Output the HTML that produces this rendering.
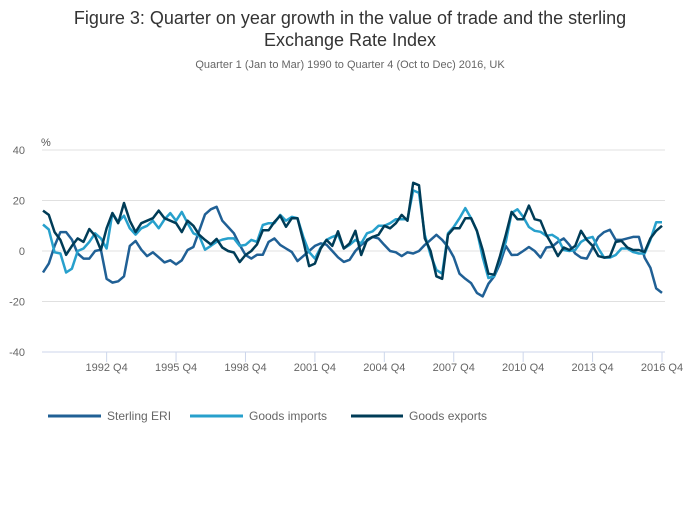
<!DOCTYPE html>
<html><head><meta charset="utf-8"><style>
body{margin:0;background:#fff;font-family:"Liberation Sans",sans-serif;}
svg text{font-family:"Liberation Sans",sans-serif;}
</style></head><body>
<svg id="chart" width="700" height="502" viewBox="0 0 700 502" xmlns="http://www.w3.org/2000/svg">
<text x="350" y="24" text-anchor="middle" font-size="18" fill="#333">Figure 3: Quarter on year growth in the value of trade and the sterling</text>
<text x="350" y="46" text-anchor="middle" font-size="18" fill="#333">Exchange Rate Index</text>
<text x="350" y="68" text-anchor="middle" font-size="11" fill="#666">Quarter 1 (Jan to Mar) 1990 to Quarter 4 (Oct to Dec) 2016, UK</text>
<text x="41" y="146" font-size="11" fill="#555">%</text>
<g id="grid"></g><g id="xaxis"></g><g id="lines"></g>
<g>
<g><line x1="48" y1="416" x2="101" y2="416" stroke="#206095" stroke-width="3"/><text x="107" y="420" font-size="12" fill="#666">Sterling ERI</text></g>
<g><line x1="190" y1="416" x2="243" y2="416" stroke="#27a0cc" stroke-width="3"/><text x="249" y="420" font-size="12" fill="#666">Goods imports</text></g>
<g><line x1="351" y1="416" x2="403" y2="416" stroke="#003c57" stroke-width="3"/><text x="409" y="420" font-size="12" fill="#666">Goods exports</text></g>
</g>
</svg>
<script>
const yTicks=[40,20,0,-20,-40];
const xTickLabels=["1992 Q4","1995 Q4","1998 Q4","2001 Q4","2004 Q4","2007 Q4","2010 Q4","2013 Q4","2016 Q4"];
const xTickIndex=[11,23,35,47,59,71,83,95,107];
const sterlingERI=[-8.5,-5,2,7.5,7.5,4.5,-1,-3,-3,0,0.5,-11,-12.5,-12,-10,2,4,0.5,-2,-0.5,-2.5,-4.5,-3.7,-5.3,-3.7,0.4,1.6,8,14.5,16.5,17.5,12,9.5,7,
2.4,-1.6,-3,-1.5,-1.5,3.6,5,2.4,1,-0.4,-4,-2,0,2,3,2.5,0,-2.5,-4.3,-3.5,0,2.4,4,5.6,5,2.4,0,-0.5,-2,-0.5,-1,0,2.4,4.4,6.4,4.4,
1.6,-2.4,-9,-11,-12.7,-16.6,-18,-13,-10,-5,2,-1.6,-1.5,0,1.6,0,-2.6,1.4,1.7,3.6,5,2.4,-1,-2.6,-3,1.4,5.6,7.5,8.4,4.4,4.4,5,5.6,5.6,-2.6,-6.6,-14.8,-16.6];
const goodsImports=[10.5,8.5,-0.5,-1,-8.5,-7,0,1,3.6,7,5,1,15,11.5,14,9,6.5,9,10,12,9,12.5,15,12,15.5,11,7,6,0.5,2,3.6,4.5,5,5,
2,2.4,4.4,3.6,10.3,11,11,14.3,12,13.5,13,5.6,-0.4,-3,1.4,4.4,5.6,6.4,1,2.4,4.4,3,7,7.8,10,10,11,12.6,12.6,12.6,24,23,6.4,-1.6,-7.5,-9,
7,9.5,13,17,13,8,-2.5,-10.7,-10,-3,3.6,15,16.5,13.5,9.5,8,7.6,6,6.4,5,0.4,0,0.4,3.6,5,5.6,1,-2.6,-2.6,-1.6,1,1,-0.4,-1,-1,4.4,11.4,11.4];
const goodsExports=[16,14.3,7.5,4.4,-1.5,2,5,3.6,8.7,6,0.4,9,15,11,19,12,7.5,11,12,13,16,13,12,11,7.5,12,10,6.4,4.4,2.6,4.8,1.4,0,-0.6,
-4.4,-1.6,0,2.6,8.2,8.2,11.5,14,9.6,13,13,4,-6,-5,1,4.4,2,7.8,1,3,8,-1.6,4.4,5.6,6.4,10,9,11,14.3,12,27,26,5,0,-10,-11,
6.4,9,9,13,13,8,0.4,-9,-9.4,-2,6.4,15.5,12.6,12.6,18,12.6,12,6.4,2.4,-2,1.4,0.4,2,8,4.4,2,-2,-2.6,-2.2,3.6,4,1.4,0.4,0.4,-0.4,5,8,10];
const NS="http://www.w3.org/2000/svg";
const X0=43,X1=662,N=108,Y40=150,Ym40=352;
function xs(i){return X0+(X1-X0)*i/(N-1);}
function ys(v){return Y40+(40-v)*(Ym40-Y40)/80;}
function mk(tag,attrs,parent){const e=document.createElementNS(NS,tag);for(const k in attrs)e.setAttribute(k,attrs[k]);parent.appendChild(e);return e;}
const grid=document.getElementById('grid');
yTicks.forEach(v=>{
 const l=mk('line',{x1:42,x2:665,y1:ys(v),y2:ys(v),stroke:v===-40?'#ccd6eb':'#e0e0e0','stroke-width':1},grid);
 
 
 const t=mk('text',{x:25,y:ys(v)+4,'text-anchor':'end','font-size':11,fill:'#666'},grid);
 
 
 t.textContent=v;
});
const xa=document.getElementById('xaxis');
xTickLabels.forEach((lab,k)=>{
 const x=xs(xTickIndex[k]);
 const tk=mk('line',{x1:x,x2:x,y1:352,y2:362,stroke:'#ccd6eb','stroke-width':1},xa);
 
 
 const t=mk('text',{x:x,y:371,'text-anchor':'middle','font-size':11,fill:'#666'},xa);
 
 
 t.textContent=lab;
});
const lines=document.getElementById('lines');
[[sterlingERI,'#206095','line-sterling-eri'],[goodsImports,'#27a0cc','line-goods-imports'],[goodsExports,'#003c57','line-goods-exports']].forEach(([d,c,n])=>{
 const p=mk('polyline',{points:d.map((v,i)=>xs(i).toFixed(1)+','+ys(v).toFixed(1)).join(' '),fill:'none',stroke:c,'stroke-width':2.5,'stroke-linejoin':'round'},lines);
 
 
});
</script>
</body></html>
